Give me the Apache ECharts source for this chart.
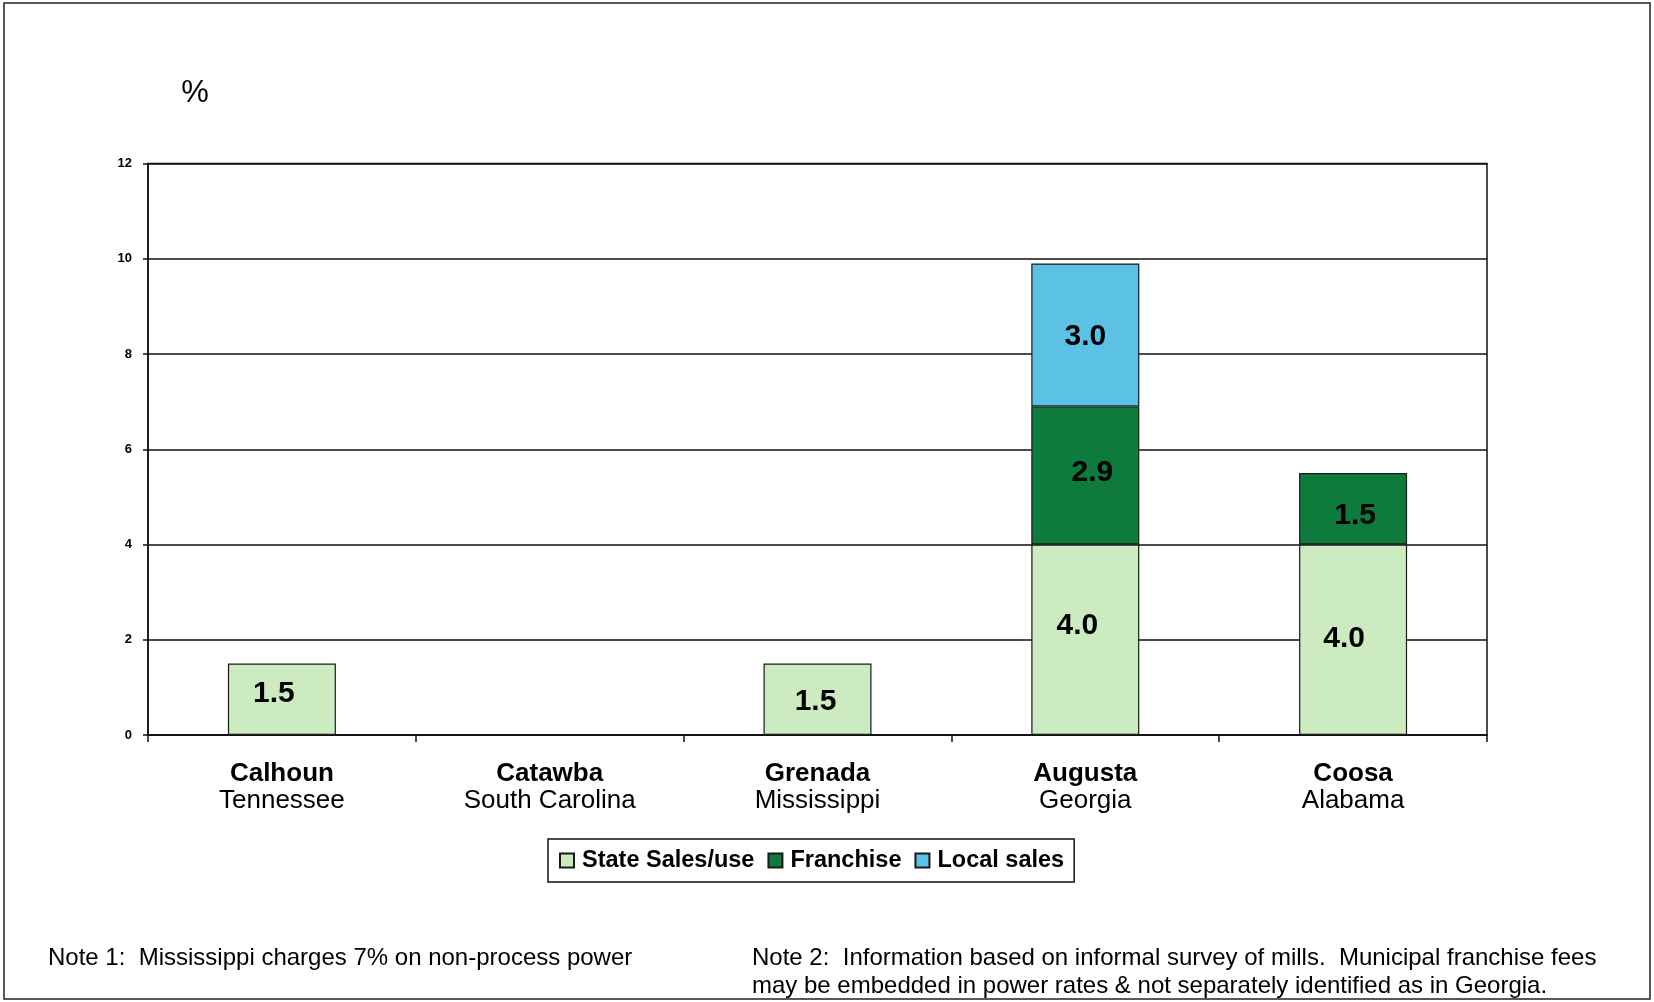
<!DOCTYPE html>
<html>
<head>
<meta charset="utf-8">
<script src="https://cdn.jsdelivr.net/npm/echarts@6/dist/echarts.min.js"></script>
<style>
html,body{margin:0;padding:0;background:#fff;}
#c{width:1654px;height:1002px;}
</style>
</head>
<body>
<div id="c"></div>
<script>
const mills = ['Calhoun', 'Catawba', 'Grenada', 'Augusta', 'Coosa'];
const states = ['Tennessee', 'South Carolina', 'Mississippi', 'Georgia', 'Alabama'];
const stateSalesUse = [1.5, null, 1.5, 4.0, 4.0];
const franchise = [null, null, null, 2.9, 1.5];
const localSales = [null, null, null, 3.0, null];
const yTicks = [0, 2, 4, 6, 8, 10, 12];
const seriesNames = ['State Sales/use', 'Franchise', 'Local sales'];
const notes = [
  'Note 1:  Mississippi charges 7% on non-process power',
  'Note 2:  Information based on informal survey of mills.  Municipal franchise fees',
  'may be embedded in power rates & not separately identified as in Georgia.'
];

// label nudges (style only), per series per category, in px
const labelNudges = [
  [[-8, -6], [0, 0], [-2, 2], [-8, -14], [-9, -1]],
  [[0, 0], [0, 0], [0, 0], [7, -3], [2, 7]],
  [[0, 0], [0, 0], [0, 0], [0, 2], [0, 0]]
];

const FONT = '"Liberation Sans", Arial, Helvetica, sans-serif';
const colors = ['#cdebc1', '#0e7a3b', '#5cc2e5'];

const chart = echarts.init(document.getElementById('c'), null, {renderer: 'canvas'});

function makeSeries(idx, data) {
  return {
    name: seriesNames[idx],
    type: 'bar',
    stack: 'total',
    barWidth: 108,
    data: data.map((v, i) => ({value: v, label: {offset: labelNudges[idx][i]}})),
    itemStyle: {color: colors[idx], borderColor: '#1a1a1a', borderWidth: 1.2},
    label: {
      show: true,
      position: 'inside',
      color: '#000',
      fontFamily: FONT,
      fontWeight: 'bold',
      fontSize: 30,
      formatter: p => (p.value == null ? '' : Number(p.value).toFixed(1))
    },
    emphasis: {disabled: true}
  };
}

const option = {
  backgroundColor: '#fff',
  animation: false,
  grid: {
    left: 148, right: 167, top: 163.5, bottom: 267,
    show: true, borderColor: '#111', borderWidth: 1.5, backgroundColor: 'transparent'
  },
  legend: {
    data: seriesNames,
    left: 548, top: 839,
    padding: [9, 10, 9, 11],
    itemWidth: 14, itemHeight: 14, itemGap: 13,
    borderColor: '#111', borderWidth: 1.5,
    icon: 'rect',
    textStyle: {fontFamily: FONT, fontWeight: 'bold', fontSize: 23.5, color: '#000', lineHeight: 25, padding: [0, 0, 0, 3]},
    selectedMode: false
  },
  xAxis: {
    type: 'category',
    data: mills,
    axisLine: {lineStyle: {color: '#111', width: 1.5}},
    axisTick: {show: true, length: 7, lineStyle: {color: '#111', width: 1.5}},
    axisLabel: {
      margin: 25,
      interval: 0,
      formatter: (v, i) => '{n|' + v + '}\n{s|' + states[i] + '}',
      rich: {
        n: {fontFamily: FONT, fontWeight: 'bold', fontSize: 26, lineHeight: 27, color: '#000'},
        s: {fontFamily: FONT, fontSize: 26, lineHeight: 27, color: '#000'}
      }
    },
    splitLine: {show: false}
  },
  yAxis: {
    type: 'value',
    min: yTicks[0], max: yTicks[yTicks.length - 1], interval: 2,
    axisLine: {show: true, lineStyle: {color: '#111', width: 1.5}},
    axisTick: {show: true, length: 5, lineStyle: {color: '#111', width: 1.5}},
    axisLabel: {margin: 16, fontFamily: FONT, fontWeight: 'bold', fontSize: 13, color: '#000'},
    splitLine: {show: true, lineStyle: {color: '#111', width: 1.5}}
  },
  graphic: [
    {type: 'rect', shape: {x: 4, y: 3, width: 1646, height: 996}, style: {fill: 'none', stroke: '#222', lineWidth: 1.5}, silent: true, z: -1},
    {type: 'text', x: 195, y: 93, style: {text: '%', fontFamily: FONT, fontSize: 31, fill: '#000', align: 'center', verticalAlign: 'middle'}},
    {type: 'text', x: 48, y: 958, style: {text: notes[0], fontFamily: FONT, fontSize: 24, fill: '#000', align: 'left', verticalAlign: 'middle'}},
    {type: 'text', x: 752, y: 958, style: {text: notes[1], fontFamily: FONT, fontSize: 24, fill: '#000', align: 'left', verticalAlign: 'middle'}},
    {type: 'text', x: 752, y: 986, style: {text: notes[2], fontFamily: FONT, fontSize: 24, fill: '#000', align: 'left', verticalAlign: 'middle'}}
  ],
  series: [
    makeSeries(0, stateSalesUse),
    makeSeries(1, franchise),
    makeSeries(2, localSales)
  ]
};

chart.setOption(option);
</script>
</body>
</html>
